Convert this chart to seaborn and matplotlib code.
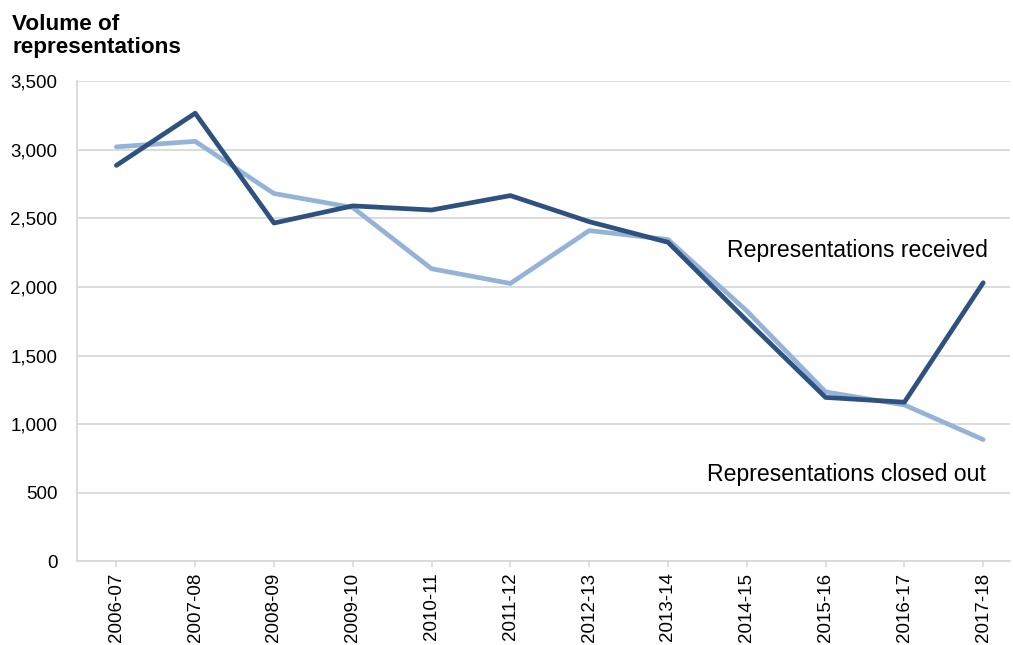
import pandas as pd
import matplotlib.pyplot as plt
import seaborn as sns

# Financial years and series values
years = ["2006-07", "2007-08", "2008-09", "2009-10", "2010-11", "2011-12",
         "2012-13", "2013-14", "2014-15", "2015-16", "2016-17", "2017-18"]
received = [2885, 3265, 2465, 2590, 2560, 2665, 2475, 2325, 1755, 1195, 1160, 2030]
closed_out = [3020, 3060, 2680, 2578, 2132, 2025, 2410, 2345, 1825, 1235, 1140, 888]
y_ticks = [0, 500, 1000, 1500, 2000, 2500, 3000, 3500]

df = pd.DataFrame({
    "year": years * 2,
    "value": received + closed_out,
    "series": ["Representations received"] * len(years)
              + ["Representations closed out"] * len(years),
})

sns.set_style("white")
plt.rcParams["font.family"] = ["Liberation Sans", "DejaVu Sans"]
plt.rcParams["text.color"] = "black"

fig = plt.figure(figsize=(10.13, 6.45), dpi=100)
ax = fig.add_axes([0.076, 0.1295, 0.921, 0.745])

palette = {"Representations received": "#2F5180",
           "Representations closed out": "#95B3D7"}
sns.lineplot(data=df, x="year", y="value", hue="series", palette=palette,
             linewidth=3.4, sort=False, legend=False, ax=ax,
             hue_order=["Representations closed out", "Representations received"])

ax.set_ylim(0, 3500)
ax.set_xlim(-0.5, 11.34)
ax.set_yticks(y_ticks)
ax.set_yticklabels([f"{v:,}" for v in y_ticks], fontsize=13.5)
ax.yaxis.grid(True, color="#D9D9D9", linewidth=1.3)
ax.set_axisbelow(True)
ax.set_xlabel("")
ax.set_ylabel("")
plt.xticks(rotation=90, fontsize=13.5)

for s in ["top", "right"]:
    ax.spines[s].set_visible(False)
for s in ["left", "bottom"]:
    ax.spines[s].set_color("#D9D9D9")
    ax.spines[s].set_linewidth(1.3)

ax.tick_params(axis="y", length=0, pad=14, colors="black")
ax.tick_params(axis="x", length=4, width=1.2, color="#D9D9D9", pad=4,
               direction="out", bottom=True, labelcolor="black")

fig.text(12 / 1013, 1 - 14 / 645, "Volume of\nrepresentations",
         fontsize=16.2, fontweight="bold", va="top", ha="left",
         linespacing=1.1, color="black")

ax.text(11.06, 2262, "Representations received", ha="right", va="center",
        fontsize=16.6, color="black")
ax.text(11.03, 632, "Representations closed out", ha="right", va="center",
        fontsize=16.6, color="black")

plt.savefig("out.png", dpi=100)
plt.close()
